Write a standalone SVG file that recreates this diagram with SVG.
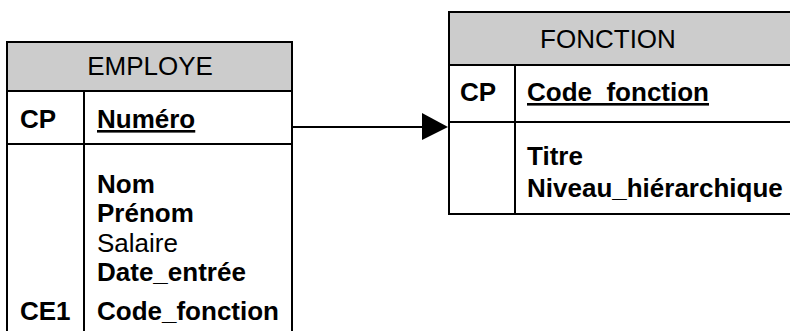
<svg xmlns="http://www.w3.org/2000/svg" width="790" height="331" viewBox="0 0 790 331">
<style>
.box{fill:#ffffff;stroke:#000;stroke-width:2}
.hdr{fill:#cccccc;stroke:#000;stroke-width:2}
.ln{stroke:#000;stroke-width:2;fill:none}
text{font-family:"Liberation Sans",Arial,sans-serif;font-size:26px;fill:#000}
.b{font-weight:bold}
.u{text-decoration:underline}
</style>
<rect width="790" height="331" fill="#ffffff"/>
<g id="employe">
<rect class="box" x="7" y="42" width="285" height="300"/>
<rect class="hdr" x="7" y="42" width="285" height="49"/>
<line class="ln" x1="7" y1="144" x2="292" y2="144"/>
<line class="ln" x1="84" y1="91" x2="84" y2="331"/>
<text x="150" y="75" text-anchor="middle">EMPLOYE</text>
<text class="b" x="20" y="128">CP</text>
<text class="b u" x="97" y="128">Numéro</text>
<text class="b" x="97" y="193">Nom</text>
<text class="b" x="97" y="222">Prénom</text>
<text x="97" y="252">Salaire</text>
<text class="b" x="97" y="281">Date_entrée</text>
<text class="b" x="20" y="320">CE1</text>
<text class="b" x="97" y="320">Code_fonction</text>
</g>
<g id="fonction">
<rect class="box" x="449" y="12" width="360" height="202"/>
<rect class="hdr" x="449" y="12" width="360" height="53"/>
<line class="ln" x1="449" y1="122" x2="800" y2="122"/>
<line class="ln" x1="515" y1="65" x2="515" y2="214"/>
<text x="608" y="48" text-anchor="middle">FONCTION</text>
<text class="b" x="460" y="101">CP</text>
<text class="b u" x="527" y="101">Code_fonction</text>
<text class="b" x="527" y="165">Titre</text>
<text class="b" x="527" y="197">Niveau_hiérarchique</text>
</g>
<g id="connectors">
<line class="ln" x1="292" y1="127" x2="424" y2="127"/>
<polygon points="422,113 448,127 422,140" fill="#000"/>
</g>
</svg>
